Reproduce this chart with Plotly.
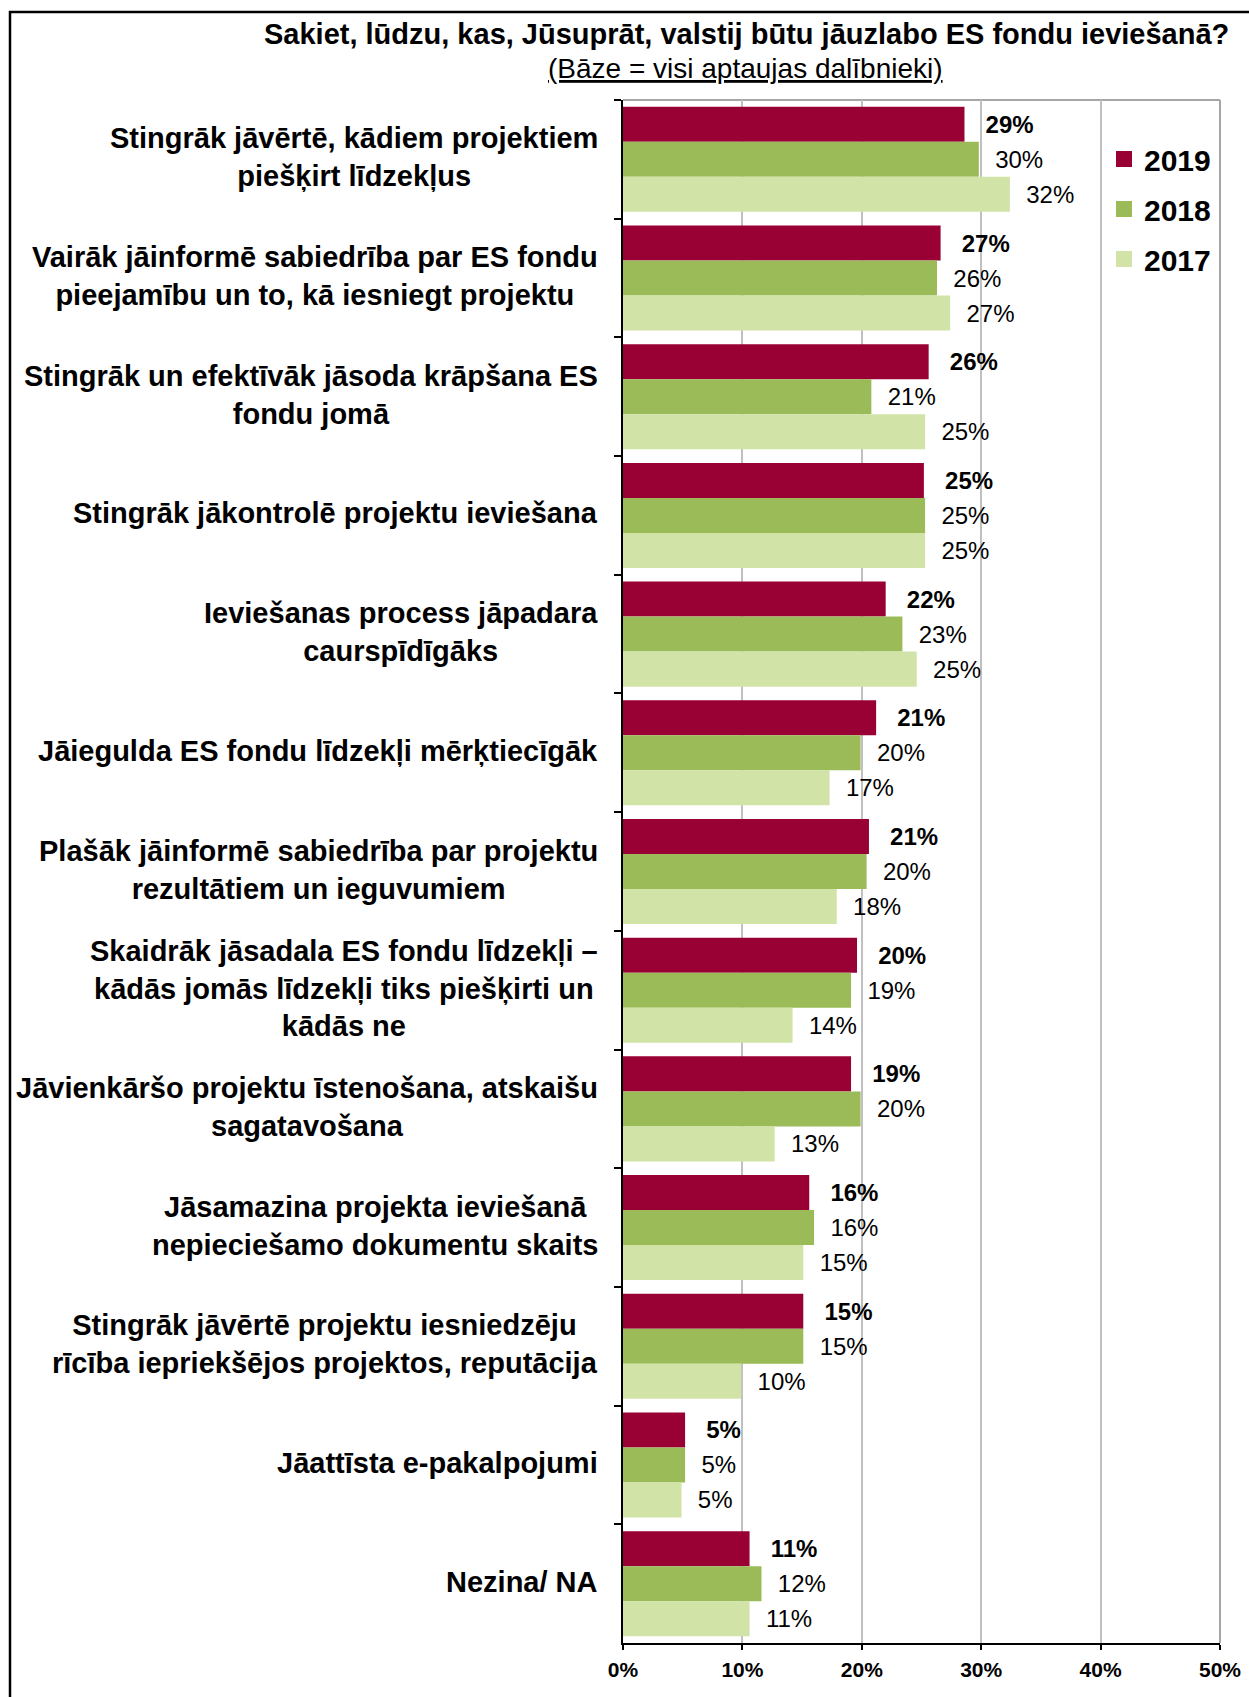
import plotly.graph_objects as go

categories = [
    "Stingrāk jāvērtē, kādiem projektiem<br>piešķirt līdzekļus",
    "Vairāk jāinformē sabiedrība par ES fondu<br>pieejamību un to, kā iesniegt projektu",
    "Stingrāk un efektīvāk jāsoda krāpšana ES<br>fondu jomā",
    "Stingrāk jākontrolē projektu ieviešana",
    "Ieviešanas process jāpadara<br>caurspīdīgāks",
    "Jāiegulda ES fondu līdzekļi mērķtiecīgāk",
    "Plašāk jāinformē sabiedrība par projektu<br>rezultātiem un ieguvumiem",
    "Skaidrāk jāsadala ES fondu līdzekļi –<br>kādās jomās līdzekļi tiks piešķirti un<br>kādās ne",
    "Jāvienkāršo projektu īstenošana, atskaišu<br>sagatavošana",
    "Jāsamazina projekta ieviešanā<br>nepieciešamo dokumentu skaits",
    "Stingrāk jāvērtē projektu iesniedzēju<br>rīcība iepriekšējos projektos, reputācija",
    "Jāattīsta e-pakalpojumi",
    "Nezina/ NA",
]

values_2019 = [28.6, 26.6, 25.6, 25.2, 22.0, 21.2, 20.6, 19.6, 19.1, 15.6, 15.1, 5.2, 10.6]
values_2018 = [29.8, 26.3, 20.8, 25.3, 23.4, 19.9, 20.4, 19.1, 19.9, 16.0, 15.1, 5.2, 11.6]
values_2017 = [32.4, 27.4, 25.3, 25.3, 24.6, 17.3, 17.9, 14.2, 12.7, 15.1, 9.9, 4.9, 10.6]

series_names = ["2019", "2018", "2017"]
series_colors = ["#990033", "#9BBB59", "#D1E3A7"]
x_ticks = [0, 10, 20, 30, 40, 50]
x_ticktext = [f"{v}%" for v in x_ticks]

FONT = "Liberation Sans, Arial, sans-serif"

# plot area in pixels
W, H = 1249, 1697
L, R, T, B = 623, 29, 100, 54
PW, PH = W - L - R, H - T - B


def px_x(p):
    return (p - L) / PW


def px_y(p):
    return (H - B - p) / PH


fig = go.Figure()
for name, vals, col in zip(series_names, [values_2019, values_2018, values_2017], series_colors):
    bold = name == "2019"
    pad = "\u00a0\u00a0\u2009" if bold else "\u00a0\u00a0"
    fig.add_trace(go.Bar(
        y=categories,
        x=vals,
        name=name,
        orientation="h",
        marker=dict(color=col, line=dict(width=0)),
        texttemplate=pad + "%{x:.0f}%",
        textposition="outside",
        textfont=dict(family=FONT, size=24, color="#000000",
                      weight="bold" if bold else "normal"),
        constraintext="none",
        cliponaxis=False,
        showlegend=False,
        hoverinfo="skip",
    ))

# legend entries (square markers)
for name, col in zip(series_names, series_colors):
    fig.add_trace(go.Scatter(
        x=[None], y=[None], mode="markers", name=name,
        marker=dict(symbol="square", size=16, color=col),
        legendgroup=name, showlegend=True, hoverinfo="skip",
    ))

# category labels (centered lines, right-aligned block)
annotations = []
for c in categories:
    annotations.append(dict(
        x=0, xref="paper", y=c, yref="y",
        text="<b>" + c + "</b>",
        xanchor="right", yanchor="middle", align="center",
        xshift=-23, yshift=2, showarrow=False,
        font=dict(family=FONT, size=29, color="#000000"),
    ))

annotations.append(dict(
    x=px_x(746), xref="paper", y=px_y(34), yref="paper",
    text="<b>Sakiet, lūdzu, kas, Jūsuprāt, valstij būtu jāuzlabo ES fondu ieviešanā?</b>",
    xanchor="center", yanchor="middle", showarrow=False,
    font=dict(family=FONT, size=29, color="#000000"),
))
annotations.append(dict(
    x=px_x(745), xref="paper", y=px_y(69), yref="paper",
    text="<u>(Bāze = visi aptaujas dalībnieki)</u>",
    xanchor="center", yanchor="middle", showarrow=False,
    font=dict(family=FONT, size=28, color="#000000"),
))

shapes = [
    # outer frame (partly cut by the page)
    dict(type="rect", xref="paper", yref="paper",
         x0=px_x(10), x1=px_x(1300), y0=px_y(1760), y1=px_y(12),
         line=dict(color="#000000", width=2.5), fillcolor="rgba(0,0,0,0)", layer="above"),
    # gray top and right border of plot area
    dict(type="line", xref="paper", yref="paper", x0=0, x1=1, y0=1, y1=1,
         line=dict(color="#A6A6A6", width=2), layer="below"),
    dict(type="line", xref="paper", yref="paper", x0=1, x1=1, y0=0, y1=1,
         line=dict(color="#A6A6A6", width=2), layer="below"),
]

fig.update_layout(
    width=W, height=H,
    margin=dict(l=L, r=R, t=T, b=B, pad=0, autoexpand=False),
    paper_bgcolor="#FFFFFF", plot_bgcolor="#FFFFFF",
    barmode="group", bargap=0.115, bargroupgap=0,
    font=dict(family=FONT, color="#000000"),
    showlegend=True,
    legend=dict(
        x=px_x(1104), y=px_y(133), xanchor="left", yanchor="top",
        font=dict(family=FONT, size=30, color="#000000", weight="bold"),
        traceorder="grouped", tracegroupgap=8,
        itemwidth=30, bgcolor="rgba(0,0,0,0)",
    ),
    annotations=annotations,
    shapes=shapes,
    xaxis=dict(
        range=[0, 50], tickmode="array", tickvals=x_ticks, ticktext=x_ticktext,
        showgrid=True, gridcolor="#C0C0C0", gridwidth=1.5,
        showline=True, linecolor="#000000", linewidth=2,
        ticks="outside", ticklen=5, tickwidth=2, tickcolor="#000000",
        tickfont=dict(family=FONT, size=21, color="#000000", weight="bold"),
        ticklabelstandoff=2, automargin=False,
        zeroline=False, fixedrange=True,
    ),
    yaxis=dict(
        autorange="reversed", showticklabels=False,
        showline=True, linecolor="#000000", linewidth=2,
        ticks="outside", ticklen=7, tickwidth=2, tickcolor="#000000",
        tickson="boundaries", showgrid=False, zeroline=False, fixedrange=True,
        automargin=False,
    ),
)

fig.write_html("out.html", config={"displayModeBar": False},
               post_script="document.body.style.margin='0';")
